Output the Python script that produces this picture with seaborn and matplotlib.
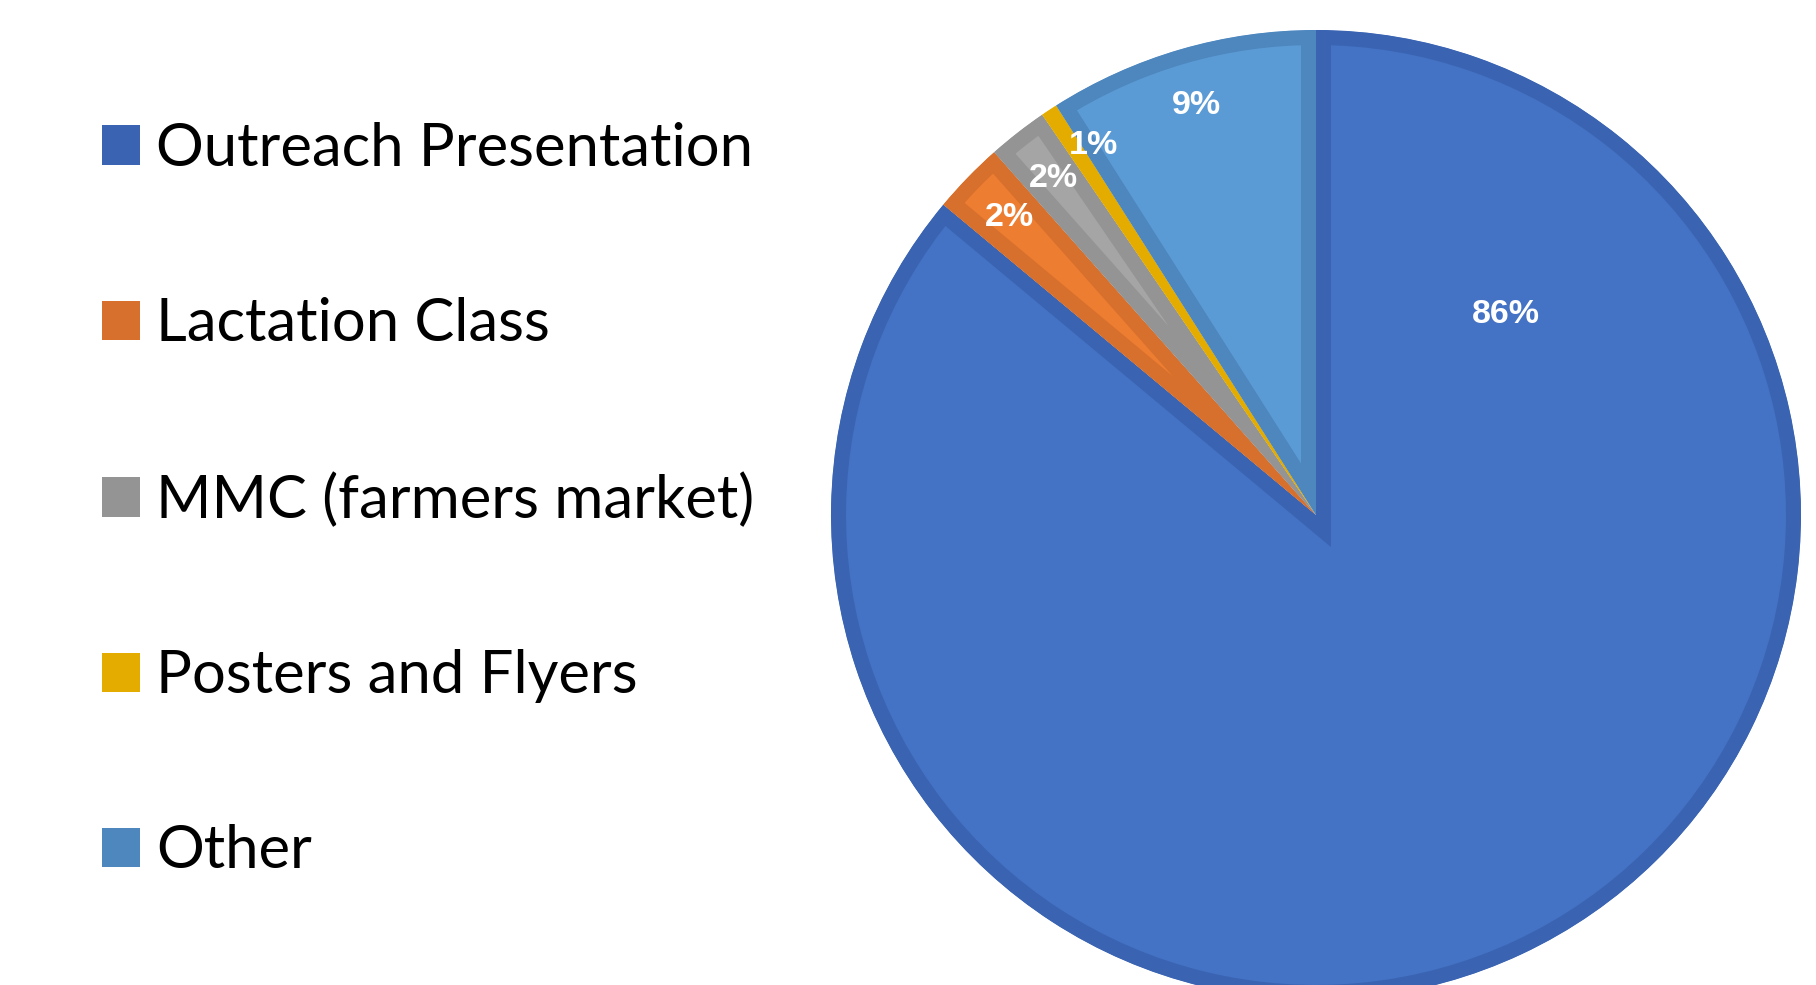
import numpy as np
import matplotlib
matplotlib.use("Agg")
import matplotlib.pyplot as plt
import seaborn as sns
from matplotlib.patches import Patch

sns.set_theme(style="white")
plt.rcParams['font.family'] = ['Lato', 'DejaVu Sans']

categories = ["Outreach Presentation", "Lactation Class", "MMC (farmers market)",
              "Posters and Flyers", "Other"]
values = [86.05, 2.4, 2.0, 0.55, 9.0]
fill_colors = ["#4472C4", "#ED7D31", "#A5A5A5", "#FFC000", "#5B9BD5"]
band_colors = ["#3A63B2", "#D6702C", "#949494", "#E5AC00", "#4E86BE"]

W, H, DPI = 1816, 985, 100
fig = plt.figure(figsize=(W / DPI, H / DPI), dpi=DPI)
fig.patch.set_facecolor("white")

# pie axes spanning the full figure; radius 1 == 485 px, center at (1316, 515) px
cx, cy, R = 1316, 515, 485
ax = fig.add_axes([0, 0, 1, 1])
wedges, texts, autotexts = ax.pie(
    values, colors=fill_colors, startangle=90, counterclock=False,
    radius=1.0, autopct='%.0f%%', pctdistance=0.88,
    textprops=dict(color="white", fontweight="bold", fontsize=24.5,
                   family=["Liberation Sans", "DejaVu Sans"]),
    wedgeprops=dict(linewidth=21.6),
)
for w, bc in zip(wedges, band_colors):
    w.set_edgecolor(bc)
    w.set_joinstyle("miter")
    w.set_clip_on(True)
    w.set_clip_path(w)

# Outreach label placed in the upper-right area of its slice
ang = np.deg2rad(46.5)
autotexts[0].set_position((0.57 * np.cos(ang), 0.57 * np.sin(ang)))
# Posters label nudged toward the Other slice, as in the original
ang = np.deg2rad(90 + 31)
autotexts[3].set_position((0.89 * np.cos(ang), 0.89 * np.sin(ang)))
for t in autotexts:
    t.set_ha("center")
    t.set_va("center")

ax.set_xlim(-cx / R, (W - cx) / R)
ax.set_ylim(-(H - cy) / R, cy / R)
ax.set_aspect("auto")
ax.axis("off")

handles = [Patch(facecolor=c, edgecolor="none") for c in band_colors]
fs = 43
em = fs * DPI / 72.0
leg = fig.legend(handles, categories, loc="upper left",
                 bbox_to_anchor=(102 / W, 1 - 122 / H),
                 bbox_transform=fig.transFigure,
                 frameon=False, fontsize=fs, borderpad=0, borderaxespad=0,
                 handlelength=38 / em, handleheight=38 / em,
                 handletextpad=16 / em, labelspacing=2.03)
for t in leg.get_texts():
    t.set_color("black")

fig.savefig("out.png", dpi=DPI, facecolor="white")
